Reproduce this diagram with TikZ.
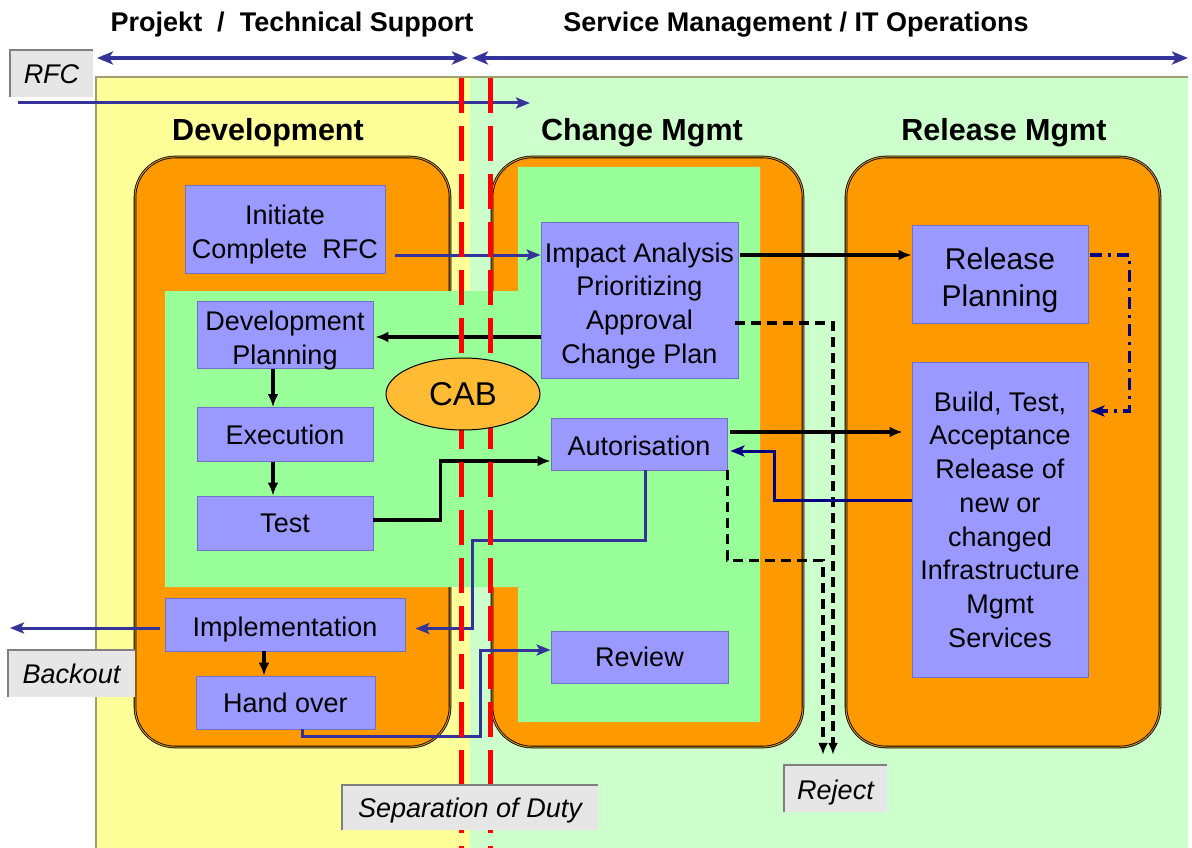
\documentclass[tikz,border=0pt]{standalone}
\usepackage{fontspec}
\setmainfont{Liberation Sans}
\usetikzlibrary{arrows.meta,calc,shapes.geometric}
\definecolor{yel}{HTML}{FFFF99}
\definecolor{lgreen}{HTML}{CCFFCC}
\definecolor{mgreen}{HTML}{99FF99}
\definecolor{orng}{HTML}{FF9900}
\definecolor{lav}{HTML}{9999FF}
\definecolor{lavedge}{HTML}{7070C8}
\definecolor{cabc}{HTML}{FFBB33}
\definecolor{lblgray}{HTML}{E6E6E6}
\definecolor{lbledge}{HTML}{808080}
\definecolor{arrblue}{HTML}{333399}
\definecolor{navyc}{HTML}{000080}
\definecolor{olivec}{HTML}{A0A070}
\definecolor{goldc}{HTML}{D09020}
\newcommand\lowtx[2]{\raisebox{-#1pt}[\height][\depth]{\begin{tabular}{@{}c@{}}#2\end{tabular}}}
\begin{document}
\begin{tikzpicture}[x=1pt,y=-1pt,
  box/.style={fill=lav, draw=lavedge, line width=0.8pt, inner sep=0pt, align=center, font=\fontsize{27}{33.7}\selectfont},
  lbl/.style={fill=lblgray, inner sep=0pt, font=\itshape\fontsize{27}{32}\selectfont},
  lbledge/.style={draw=lbledge, line width=2pt},
  hdr/.style={font=\bfseries\fontsize{30.5}{36}\selectfont},
  toplbl/.style={font=\bfseries\fontsize{27}{32}\selectfont},
  orangebox/.style={fill=orng, draw=black, line width=0.8pt, double=goldc, double distance=1pt, rounded corners=40pt},
  blk/.style={draw=black, line width=3.2pt, -{Latex[length=13pt,width=11pt]}},
  bluarr/.style={draw=arrblue, line width=3pt, -{Stealth[length=14pt,width=11pt,inset=3pt]}},
  navyarr/.style={draw=navyc, line width=3pt, -{Stealth[length=14pt,width=11pt,inset=3pt]}},
  dasharr/.style={draw=black, line width=3.2pt, dash pattern=on 10pt off 6pt, -{Latex[length=12pt,width=10pt]}},
  dotarr/.style={draw=navyc, line width=3.2pt, dash pattern=on 12pt off 6pt on 3pt off 6pt, -{Stealth[length=14pt,width=11pt,inset=3pt]}},
  toparr/.style={draw=arrblue, line width=4.5pt, {Stealth[length=16pt,width=13pt,inset=4pt]}-{Stealth[length=16pt,width=13pt,inset=4pt]}},
  reddash/.style={draw=red, line width=5pt, dash pattern=on 35pt off 13pt}
]
\useasboundingbox (0,0) rectangle (1192,848);
\fill[white] (0,0) rectangle (1192,848);
% backgrounds
\fill[yel] (96,77) rectangle (470,848);
\fill[lgreen] (470,77) rectangle (1188,848);
\draw[olivec, line width=1.5pt] (96,848) -- (96,77) -- (1188,77);
% top labels and arrows
\node[toplbl] (tproj) at (292,25) {Projekt~ /~ Technical Support};
\node[toplbl] (tserv) at (796,25) {Service Management / IT Operations};
\coordinate (pl) at (97,58);
\coordinate (pr) at (468,58);
\coordinate (sl) at (472,58);
\coordinate (sr) at (1188,58);
\draw[toparr] (pl) -- (pr);
\draw[toparr] (sl) -- (sr);
% RFC
\node[lbl, minimum width=83pt, minimum height=47pt] (rfc) at (51.5,73.5) {\lowtx{4}{RFC}};
\draw[lbledge] (rfc.south west) -- (rfc.north west) -- (rfc.north east);
\coordinate (rfcs) at (18,103);
\coordinate (rfce) at (530,103);
\draw[bluarr] (rfcs) -- (rfce);
% big boxes
\path[orangebox] (135,157) rectangle (450,747);
\path[orangebox] (492,157) rectangle (803,747);
\path[orangebox] (846,157) rectangle (1160,747);
% green region
\fill[mgreen] (165,291) -- (518,291) -- (518,167) -- (760,167) -- (760,722) -- (518,722) -- (518,587) -- (165,587) -- cycle;
% headers
\node[hdr] (hdev) at (268,133) {Development};
\node[hdr] (hchg) at (642,133) {Change Mgmt};
\node[hdr] (hrel) at (1004,133) {Release Mgmt};
% process boxes
\node[box, minimum width=200pt, minimum height=88pt] (init) at (285,229) {\lowtx{6}{Initiate\\Complete~ RFC}};
\node[box, minimum width=176pt, minimum height=64pt] (devplan) at (285,335) {\lowtx{6}{Development\\Planning}};
\node[box, minimum width=176pt, minimum height=54pt] (exec) at (285,434.5) {\lowtx{3}{Execution}};
\node[box, minimum width=176pt, minimum height=54pt] (test) at (285,523) {\lowtx{3}{Test}};
\node[box, minimum width=240pt, minimum height=53pt] (impl) at (285,624.5) {\lowtx{5}{Implementation}};
\node[box, minimum width=179pt, minimum height=53pt] (hand) at (285.5,702.5) {\lowtx{3}{Hand over}};
\node[box, minimum width=197pt, minimum height=156pt] (impact) at (639.5,300) {\lowtx{6}{Impact Analysis\\Prioritizing\\Approval\\Change Plan}};
\node[box, minimum width=176pt, minimum height=52pt] (auth) at (639,444) {\lowtx{5}{Autorisation}};
\node[box, minimum width=177pt, minimum height=52pt] (review) at (639.5,657) {\lowtx{3}{Review}};
\node[box, minimum width=176pt, minimum height=98pt, font=\fontsize{30}{37}\selectfont] (relplan) at (1000,274) {\lowtx{7}{Release\\Planning}};
\node[box, minimum width=176pt, minimum height=315pt] (build) at (1000,519.5) {\lowtx{3}{Build, Test,\\Acceptance\\Release of\\new or\\changed\\Infrastructure\\Mgmt\\Services}};
% labels
\node[lbl, minimum width=127pt, minimum height=47pt] (backout) at (71.5,673.5) {\lowtx{4}{Backout}};
\draw[lbledge] (backout.south west) -- (backout.north west) -- (backout.north east);
\node[lbl, minimum width=103pt, minimum height=47pt] (reject) at (835.5,788.5) {\lowtx{5}{Reject}};
\draw[lbledge] (reject.south west) -- (reject.north west) -- (reject.north east);
% connectors
\draw[bluarr] ([xshift=10pt,yshift=-26pt]init.east) -- ([yshift=45pt]impact.west);
\draw[blk] ([xshift=2pt,yshift=45pt]impact.east) -- ([yshift=19pt]relplan.west);
\draw[blk] ([yshift=-37pt]impact.west) -- ([xshift=2pt,yshift=-2pt]devplan.east);
\draw[blk] ([xshift=-12pt]devplan.south) -- ([xshift=-12pt]exec.north);
\draw[blk] ([xshift=-12pt]exec.south) -- ([xshift=-12pt]test.north);
\draw[blk] ([yshift=3pt]test.east) -- ++(67,0) |- ([yshift=-17pt]auth.west);
\draw[bluarr] ([xshift=6pt]auth.south) -- ++(0,70) -- ++(-173,0) |- ([xshift=10pt,yshift=-4pt]impl.east);
\draw[bluarr] ([xshift=16.5pt]hand.south) -- ++(0,7) -- ++(178,0) |- ([yshift=7pt]review.west);
\draw[dasharr] ([xshift=-3pt,yshift=-23pt]impact.east) -| ([xshift=-2.5pt,yshift=10pt]reject.north);
\draw[dasharr] (auth.south east) -- ++(0,90) -| ([xshift=-12.5pt,yshift=10pt]reject.north);
\draw[blk] ([xshift=3pt,yshift=12pt]auth.east) -- ([xshift=-9pt,yshift=87.5pt]build.west);
\draw[navyarr] ([yshift=19.5pt]build.west) -- ++(-137,0) |- ([xshift=3pt,yshift=-7pt]auth.east);
\draw[dotarr] ([xshift=2pt,yshift=19pt]relplan.east) -- ++(39,0) |- ([xshift=2pt,yshift=108.5pt]build.east);
\coordinate (backoutend) at (10,628);
\draw[bluarr] ([xshift=-5pt,yshift=-3.5pt]impl.west) -- (backoutend);
\draw[blk] ([xshift=-21pt]impl.south) -- ([xshift=-21.5pt]hand.north);
% separation lines
\draw[reddash] (461,78) -- (461,848);
\draw[reddash] (490,78) -- (490,848);
% CAB and separation label
\node[draw=black, line width=1pt, ellipse, fill=cabc, minimum width=154pt, minimum height=72pt, inner sep=0pt, font=\fontsize{33}{36}\selectfont] (cab) at (463,394) {\lowtx{4}{CAB}};
\node[lbl, minimum width=256pt, minimum height=45pt] (sep) at (470,807.5) {\lowtx{4}{Separation of Duty}};
\draw[lbledge] (sep.south west) -- (sep.north west) -- (sep.north east);
\end{tikzpicture}
\end{document}
